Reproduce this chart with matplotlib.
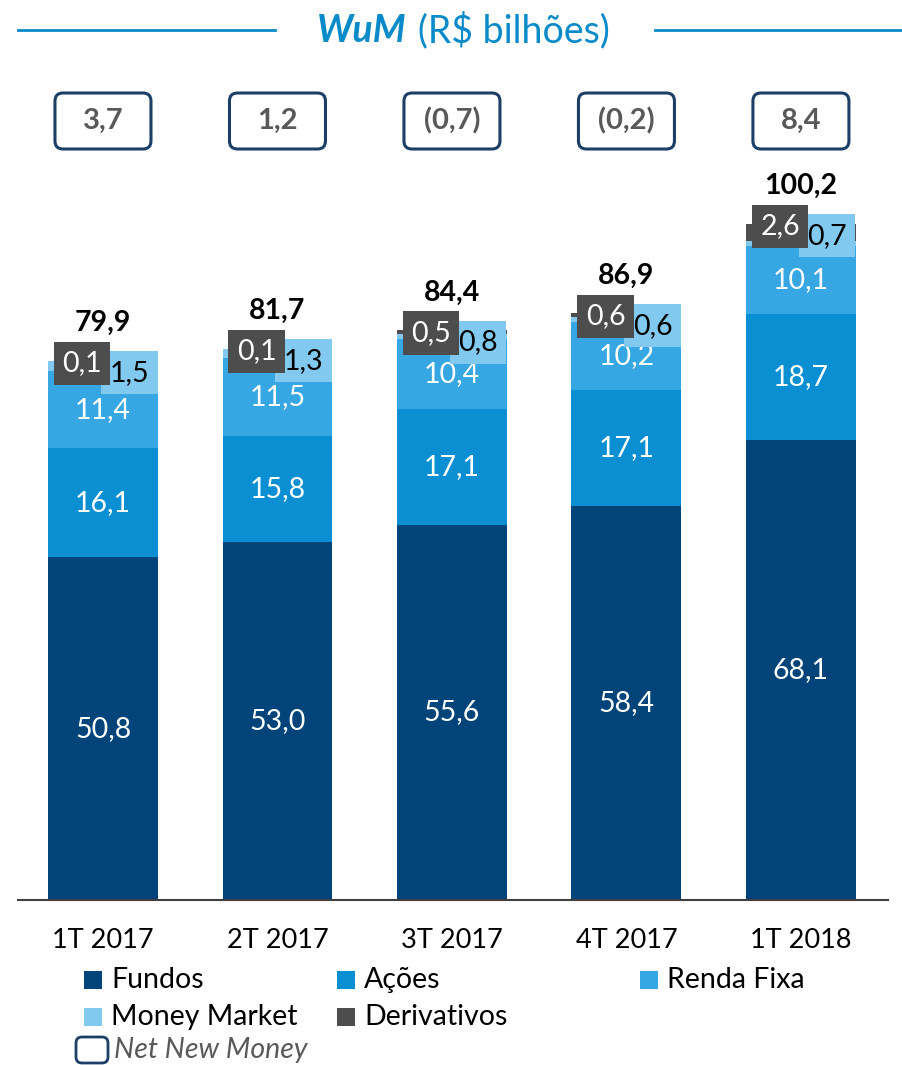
import matplotlib

matplotlib.use("Agg")
import matplotlib.pyplot as plt
from matplotlib.patches import FancyBboxPatch, Rectangle

plt.rcParams["font.family"] = ["Lato", "DejaVu Sans"]

quarters = ["1T 2017", "2T 2017", "3T 2017", "4T 2017", "1T 2018"]
fundos = [50.8, 53.0, 55.6, 58.4, 68.1]
acoes = [16.1, 15.8, 17.1, 17.1, 18.7]
renda_fixa = [11.4, 11.5, 10.4, 10.2, 10.1]
money_market = [1.5, 1.3, 0.8, 0.6, 0.7]
derivativos = [0.1, 0.1, 0.5, 0.6, 2.6]
totals = [79.9, 81.7, 84.4, 86.9, 100.2]
net_new_money = ["3,7", "1,2", "(0,7)", "(0,2)", "8,4"]

colors = {
    "Fundos": "#004479",
    "Ações": "#0a8fd3",
    "Renda Fixa": "#36a7e2",
    "Money Market": "#82c9ef",
    "Derivativos": "#4d4d4d",
}
title_blue = "#0a8bc9"
navy = "#1b3f66"


def fmt(v):
    return f"{v:.1f}".replace(".", ",")


W, H = 902, 1065
fig = plt.figure(figsize=(W / 100, H / 100), dpi=100)
fig.patch.set_facecolor("white")

# axes: left 18px, right 888px, baseline 900px, top 160px
ax = fig.add_axes([18 / W, 1 - 900 / H, 870 / W, 740 / H])
ax.set_xlim(-0.487, 4.499)
ax.set_ylim(0, 740 / 6.75)
ax.set_facecolor("white")

x = list(range(len(quarters)))
width = 0.63
bottom = [0.0] * len(x)
series = [
    ("Fundos", fundos),
    ("Ações", acoes),
    ("Renda Fixa", renda_fixa),
    ("Money Market", money_market),
    ("Derivativos", derivativos),
]
for name, vals in series:
    ax.bar(x, vals, width, bottom=bottom, color=colors[name], linewidth=0)
    if name in ("Fundos", "Ações", "Renda Fixa"):
        for i, v in enumerate(vals):
            ax.text(i, bottom[i] + v / 2, fmt(v), ha="center", va="center",
                    color="white", fontsize=20.5)
    bottom = [b + v for b, v in zip(bottom, vals)]

# small segment labels
for i in x:
    top = bottom[i]
    ax.text(i + 0.15, top - 1.8, fmt(money_market[i]), ha="center", va="center",
            color="black", fontsize=20.5, zorder=4,
            bbox=dict(boxstyle="square,pad=0.3", fc=colors["Money Market"], ec="none"))
    ax.text(i - 0.12, top - 0.4, fmt(derivativos[i]), ha="center", va="center",
            color="white", fontsize=20.5, zorder=5,
            bbox=dict(boxstyle="square,pad=0.3", fc=colors["Derivativos"], ec="none"))
    ax.annotate(fmt(totals[i]), (i, top), xytext=(0, 27), textcoords="offset points",
                ha="center", va="center", fontsize=20.5, fontweight="bold", color="black")

ax.set_xticks(x)
ax.set_xticklabels(quarters, fontsize=19.5)
ax.tick_params(axis="x", length=0, pad=20)
ax.set_yticks([])
for s in ("top", "right", "left"):
    ax.spines[s].set_visible(False)
ax.spines["bottom"].set_color("#404040")
ax.spines["bottom"].set_linewidth(1.5)

# net new money boxes (in inches to keep corners round)
ax_left_in = 18 / 100
ax_w_in = 870 / 100
x0, x1 = ax.get_xlim()
for i, label in enumerate(net_new_money):
    cx = ax_left_in + (i - x0) / (x1 - x0) * ax_w_in
    cy = (H - 121) / 100
    box = FancyBboxPatch((cx - 0.48, cy - 0.28), 0.96, 0.56,
                         boxstyle="round,pad=0,rounding_size=0.08",
                         transform=fig.dpi_scale_trans, fc="white", ec=navy, lw=2.2)
    fig.patches.append(box)
    fig.text(cx / (W / 100), cy / (H / 100), label, ha="center", va="center",
             fontsize=21, fontweight="bold", color="#595959")

# title
ty = 1 - 30 / H
fig.text(407 / W, ty, "WuM", ha="right", va="center", fontsize=27,
         fontweight="bold", fontstyle="italic", color=title_blue)
fig.text(418 / W, ty, "(R$ bilhões)", ha="left", va="center", fontsize=27,
         color=title_blue)
fig.add_artist(plt.Line2D([18 / W, 275 / W], [ty, ty], color=title_blue, lw=2))
fig.add_artist(plt.Line2D([655 / W, 1.0], [ty, ty], color=title_blue, lw=2))

# legend
legend_items = [
    ("Fundos", 84, 980), ("Ações", 337, 980), ("Renda Fixa", 640, 980),
    ("Money Market", 84, 1017), ("Derivativos", 337, 1017),
]
sq = 18
for name, px, py in legend_items:
    fig.patches.append(Rectangle((px / W, 1 - (py + sq / 2) / H), sq / W, sq / H,
                                 transform=fig.transFigure, fc=colors[name], ec="none"))
    fig.text((px + sq + 9) / W, 1 - py / H, name, ha="left", va="center",
             fontsize=20.5, color="black")
nb = FancyBboxPatch((0.76, (H - 1063) / 100), 0.32, 0.26,
                    boxstyle="round,pad=0,rounding_size=0.06",
                    transform=fig.dpi_scale_trans, fc="white", ec=navy, lw=2)
fig.patches.append(nb)
fig.text(114 / W, 1 - 1050 / H, "Net New Money", ha="left", va="center",
         fontsize=20.5, fontstyle="italic", color="#595959")

fig.savefig("out.png", dpi=100)
